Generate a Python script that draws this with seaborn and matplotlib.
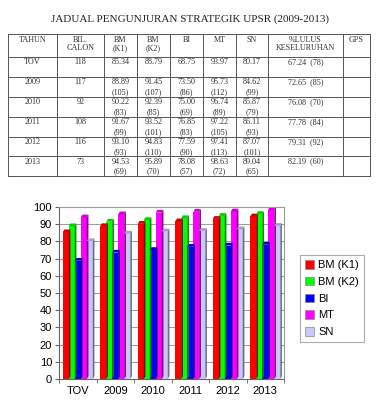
import numpy as np
import pandas as pd
import matplotlib
matplotlib.use("Agg")
import matplotlib.pyplot as plt
from matplotlib.patches import Polygon
from matplotlib.colors import to_rgb
import seaborn as sns

# Data
years = ["TOV", "2009", "2010", "2011", "2012", "2013"]
bil_calon = [118, 117, 92, 108, 116, 73]
bm_k1 = [85.34, 88.89, 90.22, 91.67, 93.10, 94.53]
bm_k2 = [88.79, 91.45, 92.39, 93.52, 94.83, 95.89]
bi = [68.75, 73.50, 75.00, 76.85, 77.59, 78.08]
mt = [93.97, 95.73, 96.74, 97.22, 97.41, 98.63]
sn = [80.17, 84.62, 85.87, 86.11, 87.07, 89.04]
n_bm_k1 = [None, 105, 83, 99, 93, 69]
n_bm_k2 = [None, 107, 85, 101, 110, 70]
n_bi = [None, 86, 69, 83, 90, 57]
n_mt = [None, 112, 89, 105, 113, 72]
n_sn = [None, 99, 79, 93, 101, 65]
lulus = ["67.24  (78)", "72.65  (85)", "76.08  (70)", "77.78  (84)", "79.31  (92)", "82.19  (60)"]

subjects = ["BM (K1)", "BM (K2)", "BI", "MT", "SN"]
colors = ["#ff0000", "#00ff00", "#0000ff", "#ff00ff", "#c8c8ff"]
headers = ["TAHUN", "BIL.\nCALON", "BM\n(K1)", "BM\n(K2)", "BI", "MT", "SN", "%LULUS\nKESELURUHAN", "GPS"]

W, H = 378, 400
fig = plt.figure(figsize=(W / 100, H / 100), dpi=100)
fig.patch.set_facecolor("white")

# --- table drawn in pixel coordinates ---
tab = fig.add_axes([0, 0, 1, 1])
tab.set_xlim(0, W)
tab.set_ylim(H, 0)
tab.axis("off")

serif = ["Liberation Serif", "DejaVu Serif"]
tab.text(190, 19, "JADUAL PENGUNJURAN STRATEGIK UPSR (2009-2013)",
         ha="center", va="center", family=serif, fontsize=8, color="#222222")

col_x = [8, 57, 104, 137, 170, 203, 236, 268, 343, 370]
row_y = [34, 57, 77, 97, 117, 137, 156, 176]
line_kw = dict(color="#555555", lw=0.7)
for x in col_x:
    tab.plot([x, x], [row_y[0], row_y[-1]], **line_kw)
for y in row_y:
    tab.plot([col_x[0], col_x[-1]], [y, y], **line_kw)

txt_kw = dict(family=serif, fontsize=5.9, color="#333333", ha="center", va="top",
              linespacing=1.0)
for i, h in enumerate(headers):
    tab.text((col_x[i] + col_x[i + 1]) / 2, row_y[0] + 2.5, h, **txt_kw)

values = [bm_k1, bm_k2, bi, mt, sn]
counts = [n_bm_k1, n_bm_k2, n_bi, n_mt, n_sn]
for r, yr in enumerate(years):
    top = row_y[r + 1] + 1.5
    tab.text((col_x[0] + col_x[1]) / 2, top, yr, **txt_kw)
    tab.text((col_x[1] + col_x[2]) / 2, top, str(bil_calon[r]), **txt_kw)
    for c in range(5):
        cx = (col_x[c + 2] + col_x[c + 3]) / 2
        tab.text(cx, top, f"{values[c][r]:.2f}", **txt_kw)
        if counts[c][r] is not None:
            tab.text(cx, top + 9.5, f"({counts[c][r]})", **txt_kw)
    tab.text(col_x[7] + 20, top, lulus[r], **dict(txt_kw, ha="left"))

# --- bar chart ---
df = pd.DataFrame({"Tahun": years, "BM (K1)": bm_k1, "BM (K2)": bm_k2,
                   "BI": bi, "MT": mt, "SN": sn})
long = df.melt(id_vars="Tahun", var_name="Subjek", value_name="Peratus")

left, right, top_px, bottom_px = 59, 284, 207, 379
ax = fig.add_axes([left / W, 1 - bottom_px / H, (right - left) / W, (bottom_px - top_px) / H])
sns.barplot(data=long, x="Tahun", y="Peratus", hue="Subjek", palette=colors,
            order=years, hue_order=subjects, width=0.8, ax=ax, legend=False,
            edgecolor="none", saturation=1)

# 3D-ish side and top faces
dx, dy = 0.045, 1.6
for p in ax.patches:
    x0, w, h = p.get_x(), p.get_width(), p.get_height()
    rgb = np.array(to_rgb(p.get_facecolor()))
    side = Polygon([[x0 + w, 0], [x0 + w + dx, dy], [x0 + w + dx, h + dy], [x0 + w, h]],
                   closed=True, facecolor=rgb * 0.55, edgecolor="none", zorder=p.get_zorder())
    topf = Polygon([[x0, h], [x0 + dx, h + dy], [x0 + w + dx, h + dy], [x0 + w, h]],
                   closed=True, facecolor=rgb * 0.8, edgecolor="none", zorder=p.get_zorder())
    ax.add_patch(side)
    ax.add_patch(topf)

ax.set_ylim(0, 100)
ax.set_xlim(-0.5, len(years) - 0.5)
ax.set_yticks(range(0, 101, 10))
ax.yaxis.grid(True, color="#9a9a9a", lw=0.7)
ax.set_axisbelow(True)
ax.set_xlabel("")
ax.set_ylabel("")
for s in ax.spines.values():
    s.set_color("#9a9a9a")
    s.set_linewidth(0.8)
ax.spines["left"].set_color("#666666")
ax.spines["bottom"].set_color("#666666")

sans = ["Liberation Sans", "DejaVu Sans"]
ax.set_xticks(range(len(years)))
ax.set_xticklabels(years, family=sans, fontsize=8)
ax.tick_params(axis="x", length=0, pad=5)
ax.set_xticks(np.arange(-0.5, len(years), 1), minor=True)
ax.tick_params(axis="x", which="minor", length=3, color="#666666", direction="out")
ax.tick_params(axis="y", length=3, color="#666666", pad=2, labelsize=8)
for lbl in ax.get_yticklabels():
    lbl.set_family(sans)

# legend
handles = [plt.Rectangle((0, 0), 1, 1, facecolor=c, edgecolor="#888888", lw=0.5) for c in colors]
leg = fig.legend(handles, subjects, loc="upper left", bbox_to_anchor=(300 / W, 1 - 255 / H),
                 prop={"family": sans, "size": 8}, frameon=True, fancybox=False,
                 handlelength=0.8, handleheight=0.8, handletextpad=0.4, labelspacing=0.6,
                 borderpad=0.45, borderaxespad=0)
leg.get_frame().set_edgecolor("#999999")
leg.get_frame().set_linewidth(0.8)

fig.savefig("out.png", dpi=100, facecolor="white")
